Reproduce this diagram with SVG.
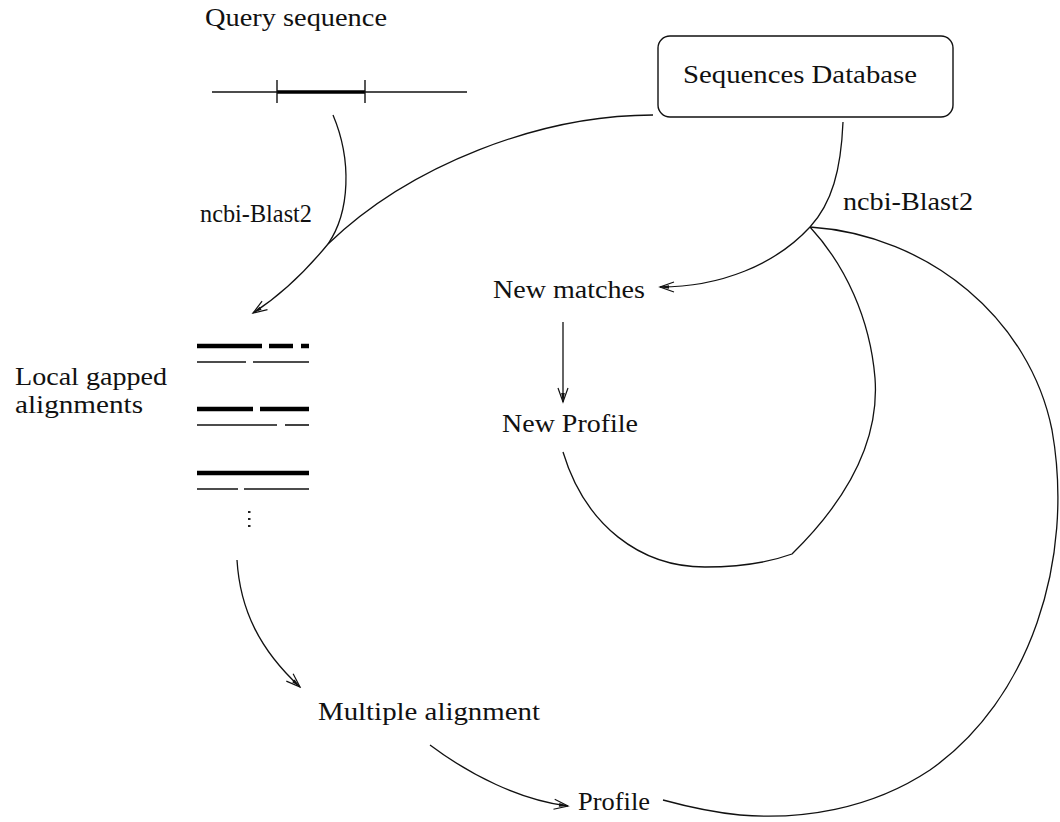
<svg xmlns="http://www.w3.org/2000/svg" width="1060" height="822" viewBox="0 0 1060 822">
  <style>
    text { font-family: "Liberation Serif", "DejaVu Serif", serif; font-size: 25px; fill: #111; }
    .edge { fill: none; stroke: #111; stroke-width: 1.3; }
    .thick { stroke: #000; stroke-width: 4.5; }
    .thin { stroke: #111; stroke-width: 1.6; }
  </style>
  <defs>
    <!-- barbed open arrowhead with a small solid core at the tip -->
    <marker id="barb" viewBox="-16 -8 18 16" refX="0" refY="0" markerWidth="18" markerHeight="16" markerUnits="userSpaceOnUse" orient="auto">
      <path d="M-14,-5 L0,0 L-14,5" fill="none" stroke="#111" stroke-width="1.2"/>
      <path d="M0,0 L-9,-1.8 L-9,1.8 Z" fill="#111"/>
    </marker>
  </defs>

  <rect width="1060" height="822" fill="#fff"/>

  <!-- connectors -->
  <g id="connectors">
    <!-- query -> local alignments (joins the database branch, shared tail) -->
    <path class="edge" d="M333,115 C352,160 350,212 328,244"/>
    <!-- database -> local alignments -->
    <path class="edge" d="M653,115 C540,115 410,165 328,244 C305,272 278,297 253,313" marker-end="url(#barb)"/>
    <!-- database -> new matches -->
    <path class="edge" d="M843,122 C841,170 832,203 810,227 C775,265 720,287 660,287" marker-end="url(#barb)"/>
    <!-- new matches -> new profile -->
    <path class="edge" d="M563,322 L563,402" marker-end="url(#barb)"/>
    <!-- new profile loop back to blast -->
    <path class="edge" d="M563,452 C585,525 640,567 705,567 C740,567 770,562 792,554 C842,505 880,445 875,378 C870,318 845,265 810,227"/>
    <!-- profile loop back to blast -->
    <path class="edge" d="M810,227 C930,235 1030,320 1052,430 C1075,560 1030,700 930,770 C870,810 800,820 740,815 C710,812 685,806 663,800"/>
    <!-- local alignments -> multiple alignment -->
    <path class="edge" d="M237,560 C240,610 260,650 300,687" marker-end="url(#barb)"/>
    <!-- multiple alignment -> profile -->
    <path class="edge" d="M430,745 C470,775 520,800 568,806" marker-end="url(#barb)"/>
  </g>

  <!-- query sequence -->
  <g id="query">
    <text x="205" y="26" textLength="182" lengthAdjust="spacingAndGlyphs">Query sequence</text>
    <line x1="212" y1="92" x2="467" y2="92" stroke="#111" stroke-width="1.4"/>
    <line x1="277" y1="92" x2="365" y2="92" stroke="#000" stroke-width="3.5"/>
    <line x1="277" y1="80" x2="277" y2="103" stroke="#111" stroke-width="1.4"/>
    <line x1="365" y1="80" x2="365" y2="103" stroke="#111" stroke-width="1.4"/>
  </g>

  <!-- sequence database -->
  <g id="database">
    <rect x="658" y="36" width="295" height="81" rx="12" ry="12" fill="none" stroke="#111" stroke-width="1.4"/>
    <text x="683" y="83" textLength="234" lengthAdjust="spacingAndGlyphs">Sequences Database</text>
  </g>

  <g id="blast-left">
    <text x="200" y="222" textLength="112" lengthAdjust="spacingAndGlyphs">ncbi-Blast2</text>
  </g>
  <g id="blast-right">
    <text x="843" y="210" textLength="130" lengthAdjust="spacingAndGlyphs">ncbi-Blast2</text>
  </g>

  <!-- local gapped alignments -->
  <g id="local-alignments">
    <text x="15" y="385" textLength="152" lengthAdjust="spacingAndGlyphs">Local gapped</text>
    <text x="15" y="413" textLength="128" lengthAdjust="spacingAndGlyphs">alignments</text>
    <g class="thick">
      <line x1="197" y1="346" x2="262" y2="346"/>
      <line x1="269" y1="346" x2="293" y2="346"/>
      <line x1="301" y1="346" x2="309" y2="346"/>
      <line x1="197" y1="409" x2="253" y2="409"/>
      <line x1="260" y1="409" x2="309" y2="409"/>
      <line x1="197" y1="473" x2="309" y2="473"/>
    </g>
    <g class="thin">
      <line x1="197" y1="362" x2="246" y2="362"/>
      <line x1="253" y1="362" x2="309" y2="362"/>
      <line x1="197" y1="425" x2="277" y2="425"/>
      <line x1="285" y1="425" x2="309" y2="425"/>
      <line x1="197" y1="489" x2="238" y2="489"/>
      <line x1="244" y1="489" x2="309" y2="489"/>
    </g>
    <g fill="#222">
      <rect x="248" y="511" width="2.5" height="2"/>
      <rect x="248" y="518" width="2.5" height="2"/>
      <rect x="248" y="525" width="2.5" height="2"/>
    </g>
  </g>

  <g id="new-matches">
    <text x="493" y="298" textLength="152" lengthAdjust="spacingAndGlyphs">New matches</text>
  </g>
  <g id="new-profile">
    <text x="502" y="432" textLength="136" lengthAdjust="spacingAndGlyphs">New Profile</text>
  </g>
  <g id="multiple-alignment">
    <text x="318" y="720" textLength="222" lengthAdjust="spacingAndGlyphs">Multiple alignment</text>
  </g>
  <g id="profile">
    <text x="578" y="810" textLength="72" lengthAdjust="spacingAndGlyphs">Profile</text>
  </g>
</svg>
